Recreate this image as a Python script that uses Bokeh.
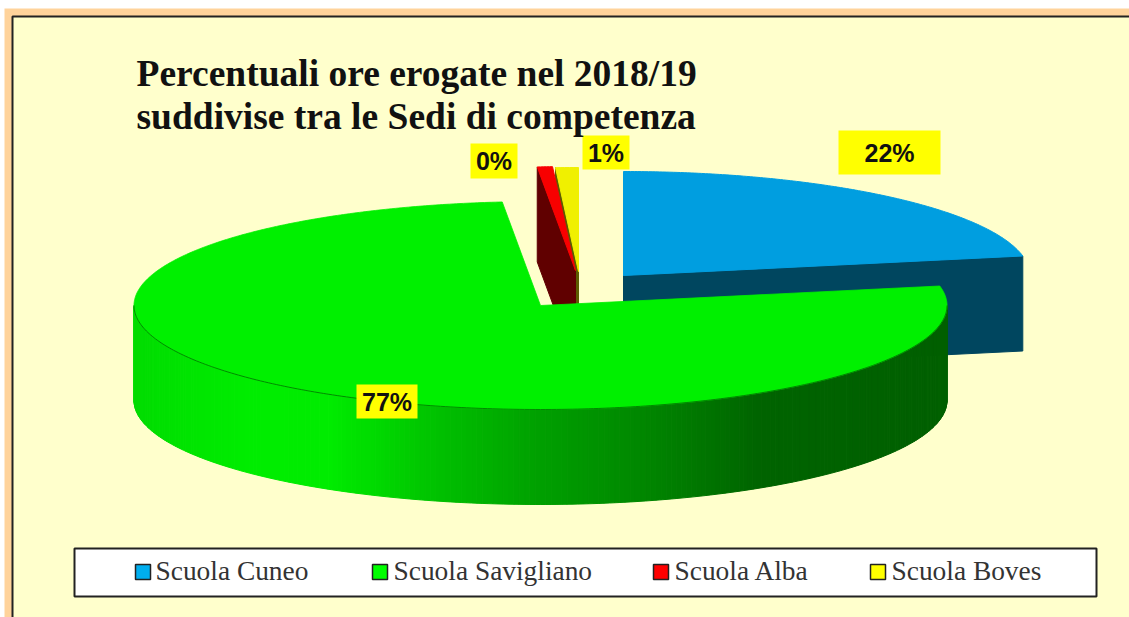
import numpy as np
from bokeh.plotting import figure
from bokeh.models import Range1d
from bokeh.core.properties import value
from bokeh.embed import file_html
from bokeh.resources import INLINE

# ---- data
categories = ["Scuola Cuneo", "Scuola Savigliano", "Scuola Alba", "Scuola Boves"]
shares = [22.0, 76.5, 0.6, 0.9]
share_labels = ["22%", "77%", "0%", "1%"]
title_lines = ["Percentuali ore erogate nel 2018/19", "suddivise tra le Sedi di competenza"]

# ---- styles / layout
top_colors = ["#009ee0", "#00f000", "#f80000", "#f0f000"]
wall_colors = ["#00465f", "#006000", "#600000", "#5c5c00"]
swatch_colors = ["#00aeef", "#00ff00", "#ff0000", "#ffff00"]
apexes = [(623, 275), (540, 305), (575, 270), (578, 271)]
RX, RY, DEPTH = 406.5, 104.0, 95.0
label_boxes = [(838, 940, 130, 174), (356, 417, 384, 418), (470, 517, 143, 178), (582, 629, 135, 169)]
legend_swatch_x = [135, 372, 653, 870]
legend_text_x = [155, 393, 674, 891]
grad_x = [133, 250, 330, 440, 540, 640, 760, 947]
grad_r = [0xdc, 0xee, 0xec, 0xc0, 0xa0, 0x88, 0x64, 0x60]

W, H = 1129, 617
p = figure(width=W, height=H, x_range=Range1d(0, W), y_range=Range1d(H, 0),
           output_backend="svg", toolbar_location=None, min_border=0,
           background_fill_color="#ffffff", border_fill_color="#ffffff", outline_line_color=None)
p.axis.visible = False
p.grid.visible = False

# frame
p.quad(left=[4], right=[W], top=[8], bottom=[H], fill_color="#ffd39b", line_color=None)
p.quad(left=[12], right=[W + 5], top=[16], bottom=[H + 5], fill_color="#ffffcc", line_color="#222222", line_width=2)

# slice angles from the values, clockwise from twelve o'clock
ends = np.cumsum(shares) / 100.0 * 360.0
starts = np.concatenate([[0.0], ends[:-1]])


def rim(apex, bearing):
    b = np.radians(bearing)
    return apex[0] + RX * np.sin(b), apex[1] - RY * np.cos(b)


def top_poly(i):
    b = np.linspace(starts[i], ends[i], max(int(ends[i] - starts[i]) * 2, 6))
    xs, ys = rim(apexes[i], b)
    return [apexes[i][0], *xs], [apexes[i][1], *ys]


def wall(i, bearing):
    x, y = rim(apexes[i], bearing)
    ax, ay = apexes[i]
    return [x, ax, ax, x], [y, ay, ay + DEPTH, y + DEPTH]


# Cuneo
xs, ys = wall(0, ends[0])
p.patch(xs, ys, fill_color=wall_colors[0], line_color=wall_colors[0], line_width=1)
xs, ys = top_poly(0)
p.patch(xs, ys, fill_color=top_colors[0], line_color=top_colors[0], line_width=1)

# Boves, then Alba
xs, ys = wall(3, starts[3])
p.patch(xs, ys, fill_color=wall_colors[3], line_color=wall_colors[3], line_width=1)
xs, ys = top_poly(3)
p.patch(xs, ys, fill_color=top_colors[3], line_color=top_colors[3], line_width=1)
xs, ys = wall(2, starts[2])
p.patch(xs, ys, fill_color=wall_colors[2], line_color=wall_colors[2], line_width=1)
xs, ys = top_poly(2)
p.patch(xs, ys, fill_color=top_colors[2], line_color=top_colors[2], line_width=1)

# Savigliano: shaded outer wall, then the top
g = np.linspace(270.0, 90.0, 241)
sx, sy = rim(apexes[1], g)
strip_xs, strip_ys, strip_cols = [], [], []
for k in range(len(g) - 1):
    strip_xs.append([sx[k], sx[k + 1], sx[k + 1], sx[k]])
    strip_ys.append([sy[k], sy[k + 1], sy[k + 1] + DEPTH, sy[k] + DEPTH])
    c = int(np.interp((sx[k] + sx[k + 1]) / 2, grad_x, grad_r))
    strip_cols.append(f"#00{c:02x}00")
p.patches(strip_xs, strip_ys, fill_color=strip_cols, line_color=strip_cols, line_width=1)
xs, ys = top_poly(1)
p.patch(xs, ys, fill_color=top_colors[1], line_color=top_colors[1], line_width=0.8)
p.line(sx, sy, line_color="#007000", line_width=0.8)

# value labels
lab_font = value("Liberation Sans")
for box, txt in zip(label_boxes, share_labels):
    p.quad(left=[box[0]], right=[box[1]], top=[box[2]], bottom=[box[3]], fill_color="#ffff00", line_color=None)
    p.text([(box[0] + box[1]) / 2], [(box[2] + box[3]) / 2], text=[txt], text_font=lab_font,
           text_font_size="25px", text_font_style="bold", text_color="#111111",
           text_align="center", text_baseline="middle")

# title
ser = value("Liberation Serif")
p.text([136], [73], text=[title_lines[0]], text_font=ser, text_font_size="37.5px", text_font_style="bold",
       text_color="#111111", text_baseline="alphabetic")
p.text([136], [116], text=[title_lines[1]], text_font=ser, text_font_size="37.5px", text_font_style="bold",
       text_color="#111111", text_baseline="alphabetic")

# legend
p.quad(left=[74], right=[1096], top=[548], bottom=[596], fill_color="#ffffff", line_color="#222222", line_width=2)
for sxp, tx, col, name in zip(legend_swatch_x, legend_text_x, swatch_colors, categories):
    p.quad(left=[sxp], right=[sxp + 15], top=[564], bottom=[579], fill_color=col, line_color="#222222", line_width=1.5)
    p.text([tx], [570], text=[name], text_font=ser, text_font_size="27.4px", text_color="#333333",
           text_baseline="alphabetic")

open("out.html", "w").write(file_html(p, INLINE))
